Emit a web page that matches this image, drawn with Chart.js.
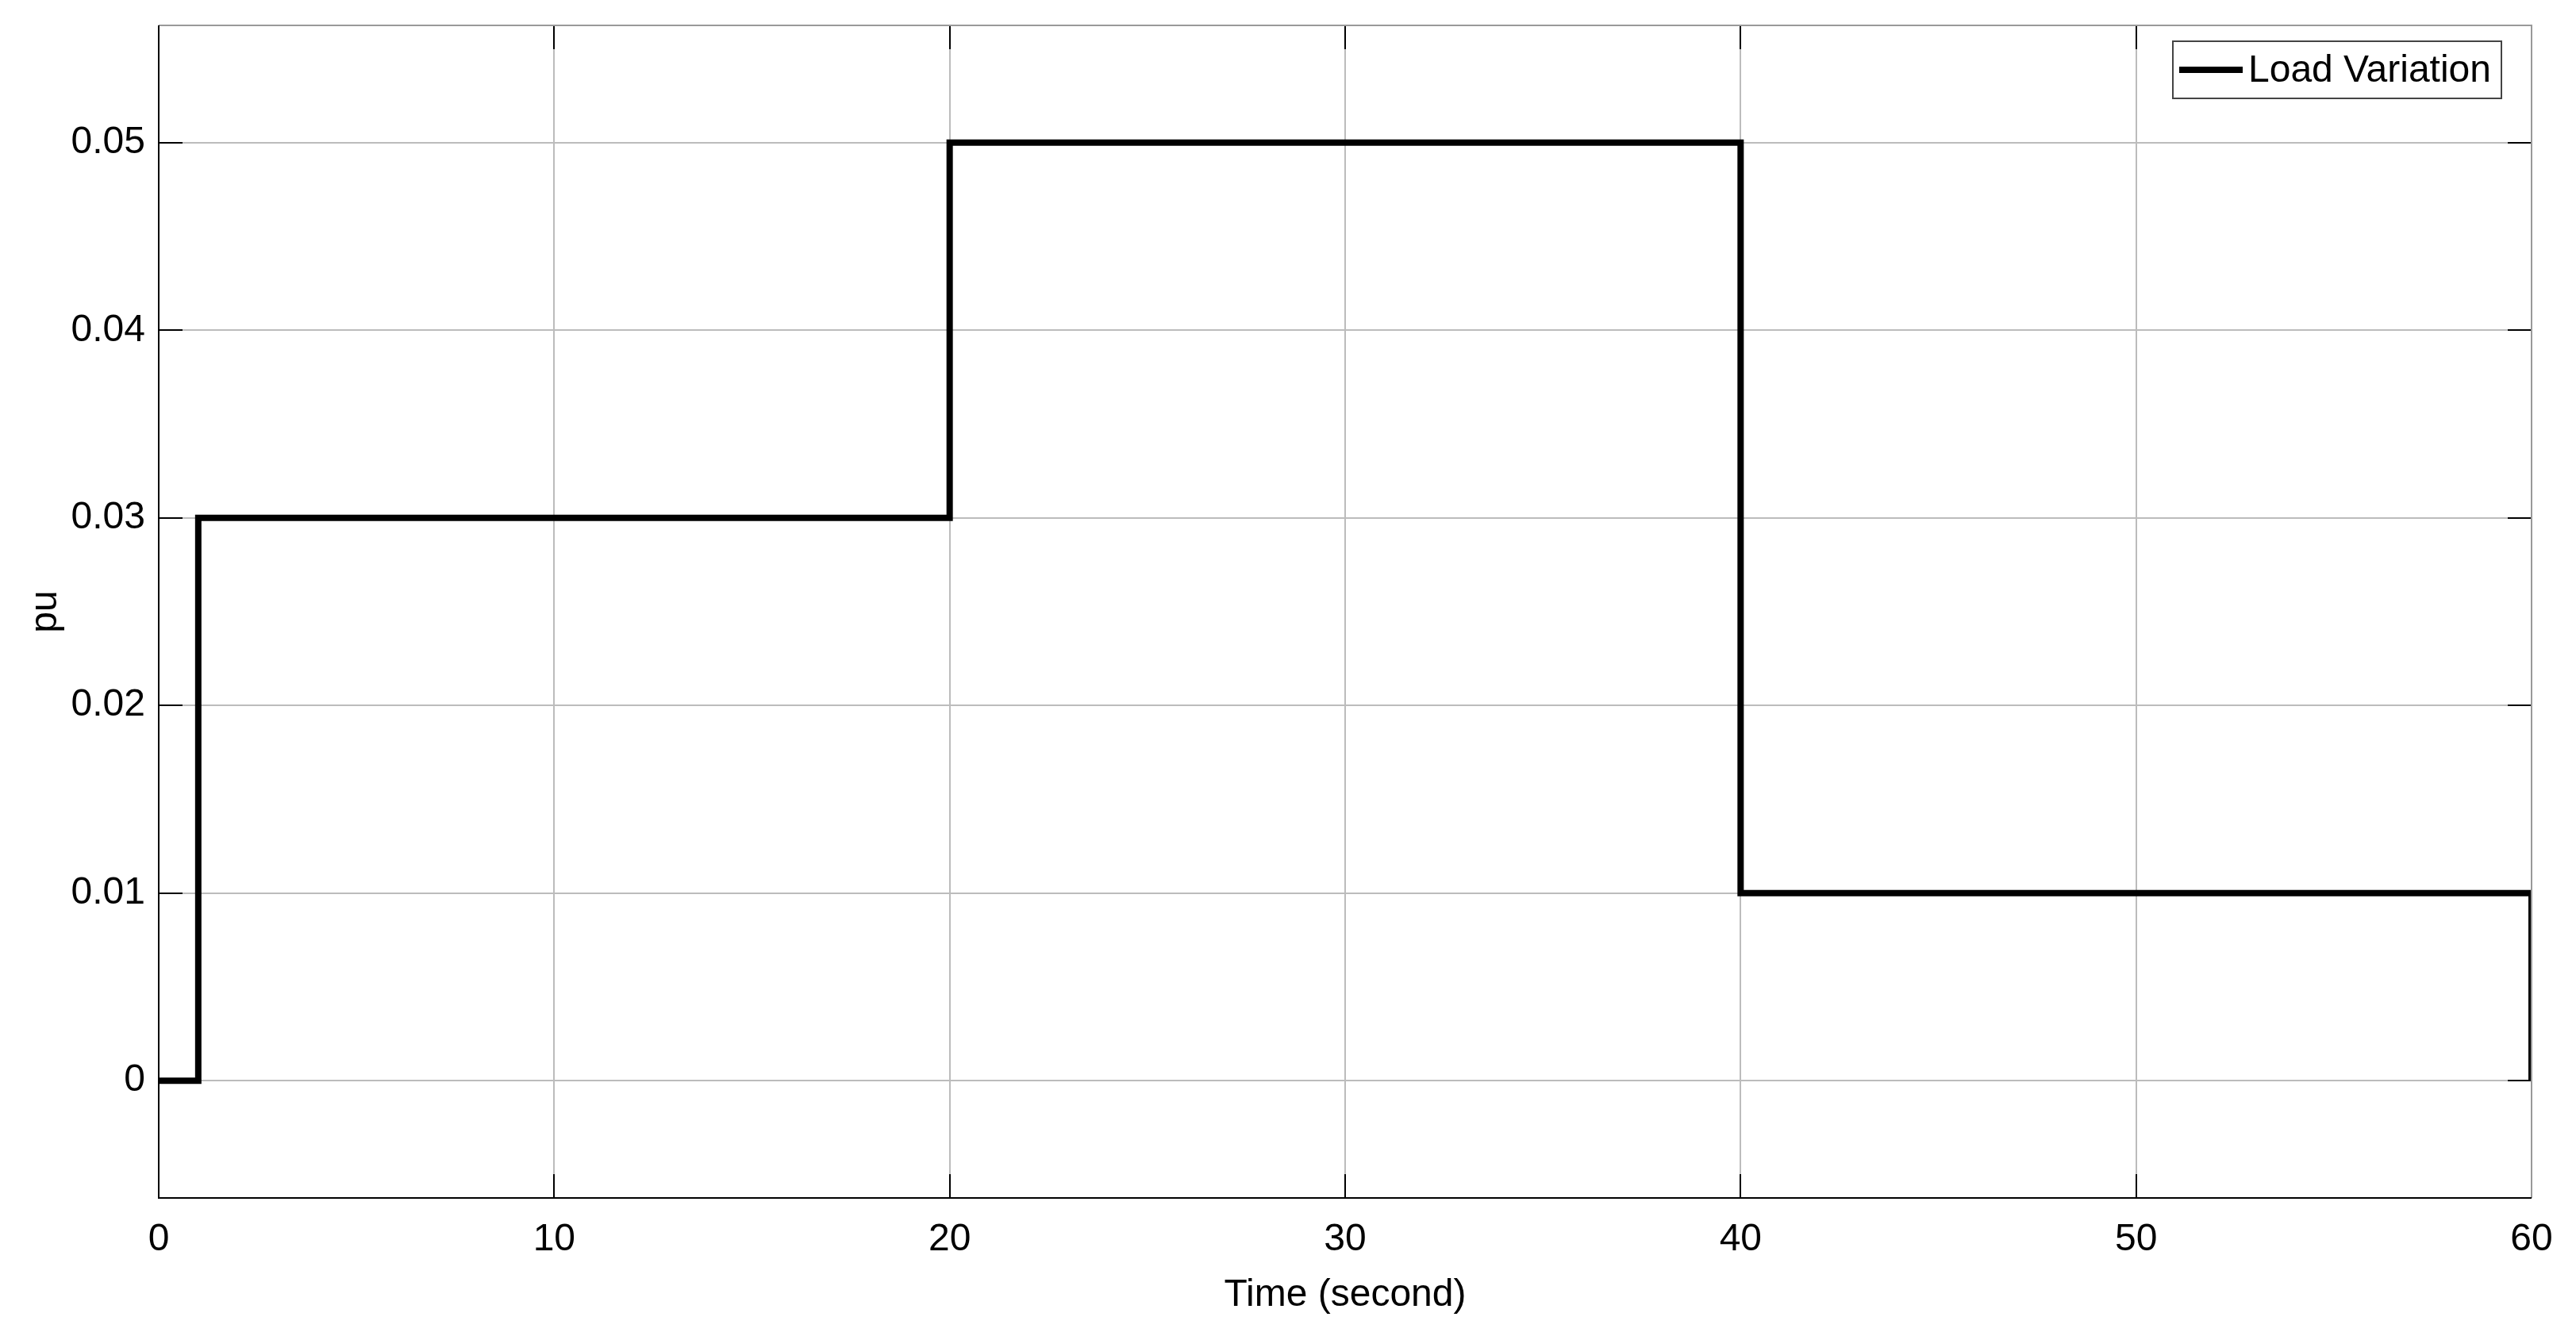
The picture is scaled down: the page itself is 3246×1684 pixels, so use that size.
<!DOCTYPE html>
<html>
<head>
<meta charset="utf-8">
<script src="https://cdn.jsdelivr.net/npm/chart.js@4.4.0/dist/chart.umd.min.js"></script>
<style>
  html, body { margin: 0; padding: 0; background: #fff; }
  #wrap { width: 3246px; height: 1684px; }
</style>
</head>
<body>
<div id="wrap"><canvas id="chart" width="3246" height="1684"></canvas></div>
<script>
// step changes of the load (pu) at each time (s)
const timeSec = [0, 1, 20, 40, 60];
const loadPu = [0, 0.03, 0.05, 0.01, 0];
const xTicks = [0, 10, 20, 30, 40, 50, 60];
const yTicks = [0, 0.01, 0.02, 0.03, 0.04, 0.05];
const seriesName = "Load Variation";

const FONT = "'Liberation Sans', Arial, sans-serif";

// MATLAB-like box: black left/bottom, gray top/right, inward ticks on all sides
const boxPlugin = {
  id: "boxPlugin",
  afterDatasetsDraw(chart) {
    const { ctx, chartArea: a, scales } = chart;
    const tl = 30;
    ctx.save();
    ctx.lineWidth = 2;
    ctx.strokeStyle = "#000";
    ctx.beginPath();
    scales.x.ticks.forEach(t => {
      const px = Math.round(scales.x.getPixelForValue(t.value));
      ctx.moveTo(px, a.bottom); ctx.lineTo(px, a.bottom - tl);
      ctx.moveTo(px, a.top); ctx.lineTo(px, a.top + tl);
    });
    scales.y.ticks.forEach(t => {
      const py = Math.round(scales.y.getPixelForValue(t.value));
      ctx.moveTo(a.left, py); ctx.lineTo(a.left + tl, py);
      ctx.moveTo(a.right, py); ctx.lineTo(a.right - tl, py);
    });
    ctx.stroke();

    ctx.strokeStyle = "#999";
    ctx.beginPath();
    ctx.moveTo(a.left, a.top); ctx.lineTo(a.right, a.top); ctx.lineTo(a.right, a.bottom);
    ctx.stroke();
    ctx.strokeStyle = "#000";
    ctx.beginPath();
    ctx.moveTo(a.left, a.top); ctx.lineTo(a.left, a.bottom); ctx.lineTo(a.right, a.bottom);
    ctx.stroke();

    // legend box
    const ds = chart.data.datasets[0];
    const bw = 414, bh = 72;
    const bx = a.right - 38 - bw, by = a.top + 20;
    ctx.fillStyle = "#fff";
    ctx.fillRect(bx, by, bw, bh);
    ctx.strokeStyle = "#444";
    ctx.lineWidth = 2;
    ctx.strokeRect(bx, by, bw, bh);
    ctx.strokeStyle = ds.borderColor;
    ctx.lineWidth = ds.borderWidth;
    ctx.beginPath();
    ctx.moveTo(bx + 8, by + bh / 2);
    ctx.lineTo(bx + 88, by + bh / 2);
    ctx.stroke();
    ctx.fillStyle = "#000";
    ctx.font = "48px " + FONT;
    ctx.textBaseline = "middle";
    ctx.textAlign = "left";
    ctx.fillText(ds.label, bx + 95, by + bh / 2 + 2);
    ctx.restore();
  }
};

new Chart(document.getElementById("chart"), {
  type: "line",
  data: {
    datasets: [{
      label: seriesName,
      data: timeSec.map((t, i) => ({ x: t, y: loadPu[i] })),
      stepped: true,
      borderColor: "#000",
      borderWidth: 8,
      borderJoinStyle: "miter",
      borderCapStyle: "butt",
      pointRadius: 0,
      fill: false
    }]
  },
  options: {
    responsive: false,
    animation: false,
    devicePixelRatio: 1,
    layout: { padding: { left: 0, right: 56, top: 32, bottom: 0 } },
    plugins: {
      legend: { display: false },
      tooltip: { enabled: false }
    },
    scales: {
      x: {
        type: "linear",
        min: 0,
        max: 60,
        afterBuildTicks: s => { s.ticks = xTicks.map(v => ({ value: v })); },
        afterFit: s => { s.height = 174; s.paddingLeft = 0; s.paddingRight = 0; },
        grid: { color: "#bcbcbc", lineWidth: 2, drawTicks: false },
        border: { display: false },
        ticks: {
          color: "#000",
          padding: 24,
          maxRotation: 0,
          font: { family: FONT, size: 48 },
          callback: v => String(v)
        },
        title: {
          display: true,
          text: "Time (second)",
          color: "#000",
          font: { family: FONT, size: 48 },
          padding: { top: 0, bottom: 22 }
        }
      },
      y: {
        type: "linear",
        min: -0.00625,
        max: 0.05625,
        afterBuildTicks: s => { s.ticks = yTicks.map(v => ({ value: v })); },
        afterFit: s => { s.width = 200; s.paddingTop = 0; s.paddingBottom = 0; },
        grid: { color: "#bcbcbc", lineWidth: 2, drawTicks: false },
        border: { display: false },
        ticks: {
          color: "#000",
          padding: 17,
          font: { family: FONT, size: 48 },
          callback: v => String(Math.round(v * 100) / 100)
        },
        title: {
          display: true,
          text: "pu",
          color: "#000",
          font: { family: FONT, size: 48 },
          padding: { top: 29, bottom: 0 }
        }
      }
    }
  },
  plugins: [boxPlugin]
});
</script>
</body>
</html>
